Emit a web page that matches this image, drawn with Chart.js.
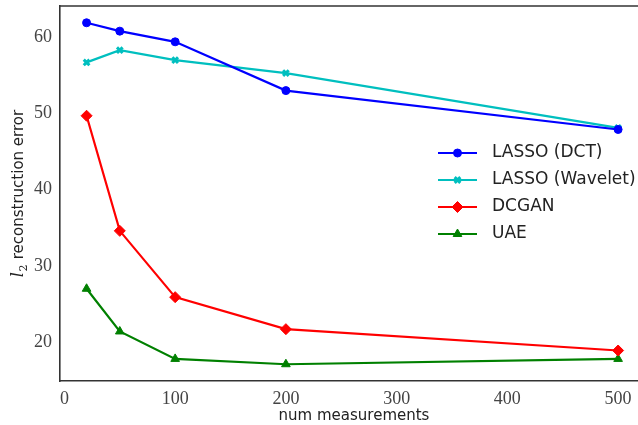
<!DOCTYPE html>
<html>
<head>
<meta charset="utf-8">
<script src="https://cdn.jsdelivr.net/npm/chart.js@4/dist/chart.umd.min.js"></script>
<style>
  html, body { margin: 0; padding: 0; background: #fff; overflow: hidden; }
  #wrap { width: 638px; height: 425px; overflow: hidden; }
</style>
</head>
<body>
<div id="wrap"><canvas id="chart" width="648" height="425"></canvas></div>
<script>
// valores
const measurements = [20, 50, 100, 200, 500];
const lassoDct = [61.9, 60.8, 59.4, 53.0, 47.9];
const lassoWavelet = [56.7, 58.3, 57.0, 55.3, 48.1];
const dcgan = [49.7, 34.6, 25.9, 21.7, 18.9];
const uae = [27.0, 21.4, 17.8, 17.1, 17.8];

const xTicks = [0, 100, 200, 300, 400, 500];
const yTicks = [20, 30, 40, 50, 60];

const seriesNames = ['LASSO (DCT)', 'LASSO (Wavelet)', 'DCGAN', 'UAE'];

const spineColor = '#333333';
const tickColor = '#444444';

const mkSeries = (label, values, color, style, radius, bw) => ({
    label: label,
    data: measurements.map((m, i) => ({ x: m, y: values[i] })),
    borderColor: color,
    backgroundColor: color,
    borderWidth: 2.2,
    pointStyle: style,
    pointRadius: radius,
    pointBorderWidth: bw,
    pointBorderColor: color,
    pointBackgroundColor: color,
    tension: 0
});

// marco superior (el derecho queda fuera de la imagen)
const topSpine = {
    id: 'topSpine',
    beforeDatasetsDraw(chart) {
        const { ctx, chartArea: a } = chart;
        ctx.save();
        ctx.strokeStyle = spineColor;
        ctx.lineWidth = 1.6;
        ctx.beginPath();
        ctx.moveTo(a.left, a.top);
        ctx.lineTo(chart.width, a.top);
        ctx.stroke();
        ctx.restore();
    }
};

// titulo del eje y con l cursiva y subindice 2
const yTitle = {
    id: 'yTitle',
    afterDraw(chart) {
        const { ctx, chartArea: a } = chart;
        const partL = 'l';
        const partSub = '2';
        const rest = ' reconstruction error';
        const fL = 'italic 16px "DejaVu Serif"';
        const fS = '11px "DejaVu Serif"';
        const fR = '15px "DejaVu Sans"';
        ctx.save();
        ctx.fillStyle = '#222';
        ctx.textBaseline = 'alphabetic';
        ctx.font = fL;
        const wl = ctx.measureText(partL).width;
        ctx.font = fS;
        const ws = ctx.measureText(partSub).width;
        ctx.font = fR;
        const wr = ctx.measureText(rest).width;
        const total = wl + ws + 1 + wr;
        ctx.translate(23, (a.top + a.bottom) / 2);
        ctx.rotate(-Math.PI / 2);
        let x = -total / 2;
        ctx.font = fL;
        ctx.fillText(partL, x, 0);
        x += wl + 0.5;
        ctx.font = fS;
        ctx.fillText(partSub, x, 4);
        x += ws + 0.5;
        ctx.font = fR;
        ctx.fillText(rest, x, 0);
        ctx.restore();
    }
};

// leyenda dibujada a mano con linea + marcador
const lineLegend = {
    id: 'lineLegend',
    afterDraw(chart) {
        const { ctx } = chart;
        const x0 = 438, x1 = 477, tx = 492, y0 = 153, dy = 27;
        ctx.save();
        chart.data.datasets.forEach((ds, i) => {
            const y = y0 + i * dy;
            ctx.strokeStyle = ds.borderColor;
            ctx.lineWidth = 2.2;
            ctx.beginPath();
            ctx.moveTo(x0, y);
            ctx.lineTo(x1, y);
            ctx.stroke();
            ctx.fillStyle = ds.pointBackgroundColor;
            ctx.strokeStyle = ds.pointBorderColor;
            ctx.lineWidth = ds.pointBorderWidth;
            Chart.helpers.drawPoint(ctx, {
                pointStyle: ds.pointStyle,
                radius: ds.pointRadius,
                borderWidth: ds.pointBorderWidth,
                rotation: 0
            }, (x0 + x1) / 2, y);
            ctx.fillStyle = '#222';
            ctx.font = '17px "DejaVu Sans"';
            ctx.textBaseline = 'middle';
            ctx.textAlign = 'left';
            ctx.fillText(seriesNames[i], tx, y);
        });
        ctx.restore();
    }
};

new Chart(document.getElementById('chart'), {
    type: 'line',
    data: {
        datasets: [
            mkSeries(seriesNames[0], lassoDct, '#0000ff', 'circle', 4, 1),
            mkSeries(seriesNames[1], lassoWavelet, '#00bfbf', 'crossRot', 4, 3),
            mkSeries(seriesNames[2], dcgan, '#ff0000', 'rectRot', 5.5, 1),
            mkSeries(seriesNames[3], uae, '#008000', 'triangle', 5, 1)
        ]
    },
    options: {
        responsive: false,
        animation: false,
        layout: { autoPadding: false, padding: { top: 6, right: 0, left: 0, bottom: 0 } },
        plugins: {
            legend: { display: false },
            tooltip: { enabled: false }
        },
        scales: {
            x: {
                type: 'linear',
                min: -4,
                max: 527,
                afterBuildTicks: s => { s.ticks = xTicks.map(v => ({ value: v })); },
                afterFit: s => {
                    s.height = 44;
                    s.paddingLeft = 0;
                    s.paddingRight = 0;
                },
                grid: { display: false, drawTicks: false },
                border: { display: true, color: spineColor, width: 1.6 },
                ticks: {
                    color: tickColor,
                    padding: 7,
                    maxRotation: 0,
                    font: { family: '"Liberation Serif"', size: 18 }
                },
                title: {
                    display: true,
                    text: 'num measurements',
                    color: '#222',
                    padding: { top: 0, bottom: 0 },
                    font: { family: '"DejaVu Sans"', size: 15 }
                }
            },
            y: {
                type: 'linear',
                min: 14.9,
                max: 64.1,
                afterBuildTicks: s => { s.ticks = yTicks.map(v => ({ value: v })); },
                afterFit: s => {
                    s.width = 60;
                    s.paddingTop = 0;
                    s.paddingBottom = 0;
                },
                grid: { display: false, drawTicks: false },
                border: { display: true, color: spineColor, width: 1.6 },
                ticks: {
                    color: tickColor,
                    padding: 8,
                    font: { family: '"Liberation Serif"', size: 18 }
                }
            }
        }
    },
    plugins: [topSpine, yTitle, lineLegend]
});
</script>
</body>
</html>
